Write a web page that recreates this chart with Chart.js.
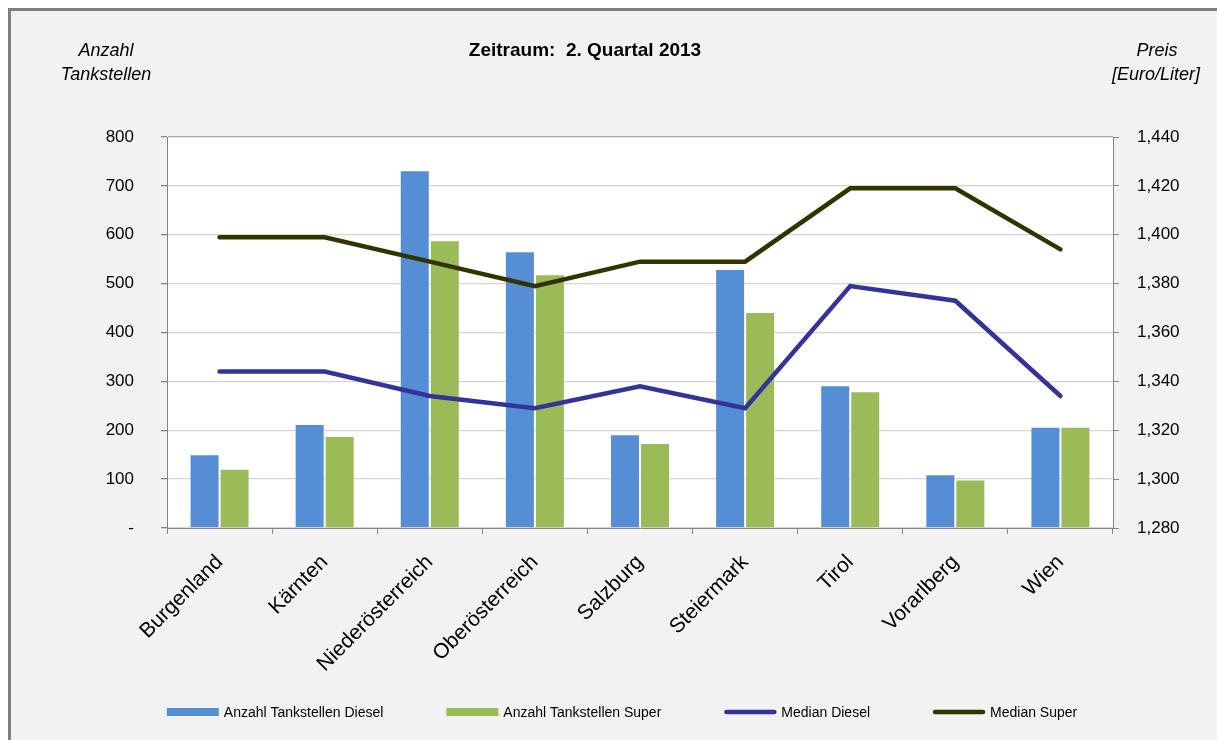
<!doctype html>
<html>
<head>
  <meta charset="utf-8">
  <script src="https://cdn.jsdelivr.net/npm/chart.js@4.4.0/dist/chart.umd.min.js"></script>
  <style>
    html, body { margin: 0; padding: 0; background: #fff; }
    #wrap { width: 1217px; height: 740px; }
  </style>
</head>
<body>
  <div id="wrap"><canvas id="chart" width="1217" height="740"></canvas></div>
  <script>
    // Bundesländer
    const regions = ['Burgenland', 'Kärnten', 'Niederösterreich', 'Oberösterreich', 'Salzburg',
      'Steiermark', 'Tirol', 'Vorarlberg', 'Wien'];
    // Anzahl Tankstellen
    const stationsDiesel = [151, 213, 732, 566, 192, 530, 292, 110, 207];
    const stationsSuper = [121, 188, 589, 519, 174, 442, 280, 99, 207];
    // Median Preis (Euro/Liter)
    const medianDiesel = [1.344, 1.344, 1.334, 1.329, 1.338, 1.329, 1.379, 1.373, 1.334];
    const medianSuper = [1.399, 1.399, 1.389, 1.379, 1.389, 1.389, 1.419, 1.419, 1.394];

    const titleText = 'Zeitraum:  2. Quartal 2013';
    const leftTitle = ['Anzahl', 'Tankstellen'];
    const rightTitle = ['Preis', '[Euro/Liter]'];

    const FONT = '"Liberation Sans", Arial, sans-serif';
    const AXIS_GRAY = '#868686';

    const framePlugin = {
      id: 'frame',
      beforeDraw(chart) {
        const ctx = chart.ctx;
        const w = chart.width, h = chart.height;
        const a = chart.chartArea;
        ctx.save();
        ctx.fillStyle = '#ffffff';
        ctx.fillRect(0, 0, w, h);
        ctx.fillStyle = '#f2f2f2';
        ctx.fillRect(9, 9, w, h);
        ctx.strokeStyle = '#7f7f7f';
        ctx.lineWidth = 3;
        ctx.strokeRect(9.5, 9.5, w + 20, h + 20);
        ctx.fillStyle = '#ffffff';
        ctx.fillRect(a.left, a.top, a.width, a.height);
        ctx.restore();
      },
      afterDraw(chart) {
        const ctx = chart.ctx;
        ctx.save();
        ctx.fillStyle = '#000';
        ctx.textBaseline = 'middle';
        ctx.textAlign = 'center';
        ctx.font = 'bold 19px ' + FONT;
        ctx.fillText(titleText, 585, 51);
        ctx.font = 'italic 18px ' + FONT;
        ctx.fillText(leftTitle[0], 106, 51);
        ctx.fillText(leftTitle[1], 106, 75);
        ctx.fillText(rightTitle[0], 1157, 51);
        ctx.fillText(rightTitle[1], 1156, 75);

        // Legende
        ctx.font = '14px ' + FONT;
        const items = chart.data.datasets.map(ds => ({
          label: ds.label, color: ds.type === 'line' ? ds.borderColor : ds.backgroundColor,
          line: ds.type === 'line', w: ctx.measureText(ds.label).width
        }));
        const boxW = 52, gapText = 5, gapItem = 63;
        const total = items.reduce((s, it) => s + boxW + gapText + it.w, 0) + gapItem * (items.length - 1);
        let x = 622 - total / 2;
        const y = 712;
        ctx.textAlign = 'left';
        items.forEach(it => {
          if (it.line) {
            ctx.strokeStyle = it.color;
            ctx.lineWidth = 4.5;
            ctx.lineCap = 'round';
            ctx.beginPath();
            ctx.moveTo(x + 2, y);
            ctx.lineTo(x + boxW - 2, y);
            ctx.stroke();
          } else {
            ctx.fillStyle = it.color;
            ctx.fillRect(x, y - 4, boxW, 8);
          }
          ctx.fillStyle = '#000';
          ctx.fillText(it.label, x + boxW + gapText, y + 1);
          x += boxW + gapText + it.w + gapItem;
        });
        ctx.restore();
      }
    };

    new Chart(document.getElementById('chart'), {
      type: 'bar',
      data: {
        labels: regions,
        datasets: [
          {
            label: 'Anzahl Tankstellen Diesel',
            data: stationsDiesel,
            backgroundColor: '#558ed5',
            borderColor: 'rgba(255,255,255,0.5)',
            borderWidth: 1,
            yAxisID: 'y',
            order: 1,
            categoryPercentage: 0.571,
            barPercentage: 1.0
          },
          {
            label: 'Anzahl Tankstellen Super',
            data: stationsSuper,
            backgroundColor: '#9bbb59',
            borderColor: 'rgba(255,255,255,0.5)',
            borderWidth: 1,
            yAxisID: 'y',
            order: 1,
            categoryPercentage: 0.571,
            barPercentage: 1.0
          },
          {
            type: 'line',
            label: 'Median Diesel',
            data: medianDiesel,
            borderColor: '#333399',
            backgroundColor: '#333399',
            borderWidth: 4.5,
            borderCapStyle: 'round',
            pointRadius: 0,
            tension: 0,
            yAxisID: 'y1',
            order: 0
          },
          {
            type: 'line',
            label: 'Median Super',
            data: medianSuper,
            borderColor: '#333300',
            backgroundColor: '#333300',
            borderWidth: 4.5,
            borderCapStyle: 'round',
            pointRadius: 0,
            tension: 0,
            yAxisID: 'y1',
            order: 0
          }
        ]
      },
      options: {
        responsive: false,
        animation: false,
        layout: { padding: { left: 10, right: 10, top: 137, bottom: 10 } },
        plugins: {
          legend: { display: false },
          title: { display: false },
          tooltip: { enabled: false }
        },
        scales: {
          x: {
            offset: true,
            grid: {
              offset: true,
              drawOnChartArea: false,
              color: AXIS_GRAY,
              tickLength: 6
            },
            border: { color: AXIS_GRAY },
            ticks: {
              color: '#000',
              font: { family: FONT, size: 21 },
              minRotation: 45,
              maxRotation: 45,
              autoSkip: false,
              padding: 16
            },
            afterFit: (s) => { s.height = 202; }
          },
          y: {
            position: 'left',
            min: 0,
            max: 800,
            ticks: {
              stepSize: 100,
              color: '#000',
              padding: 27,
              font: { family: FONT, size: 17 },
              callback: (v) => v === 0 ? '-' : v
            },
            grid: {
              color: (c) => c.tick && c.tick.value === 800 ? '#a6a6a6' : '#d4d4d4',
              lineWidth: 1.3,
              tickColor: AXIS_GRAY,
              tickLength: 6
            },
            border: { color: AXIS_GRAY },
            afterFit: (s) => { s.width = 157; }
          },
          y1: {
            position: 'right',
            min: 1.28,
            max: 1.44,
            ticks: {
              stepSize: 0.02,
              color: '#000',
              padding: 18,
              font: { family: FONT, size: 17 },
              callback: (v) => v.toFixed(3).replace('.', ',')
            },
            grid: {
              drawOnChartArea: false,
              color: AXIS_GRAY,
              tickLength: 6
            },
            border: { color: AXIS_GRAY },
            afterFit: (s) => { s.width = 94; }
          }
        }
      },
      plugins: [framePlugin]
    });
  </script>
</body>
</html>
